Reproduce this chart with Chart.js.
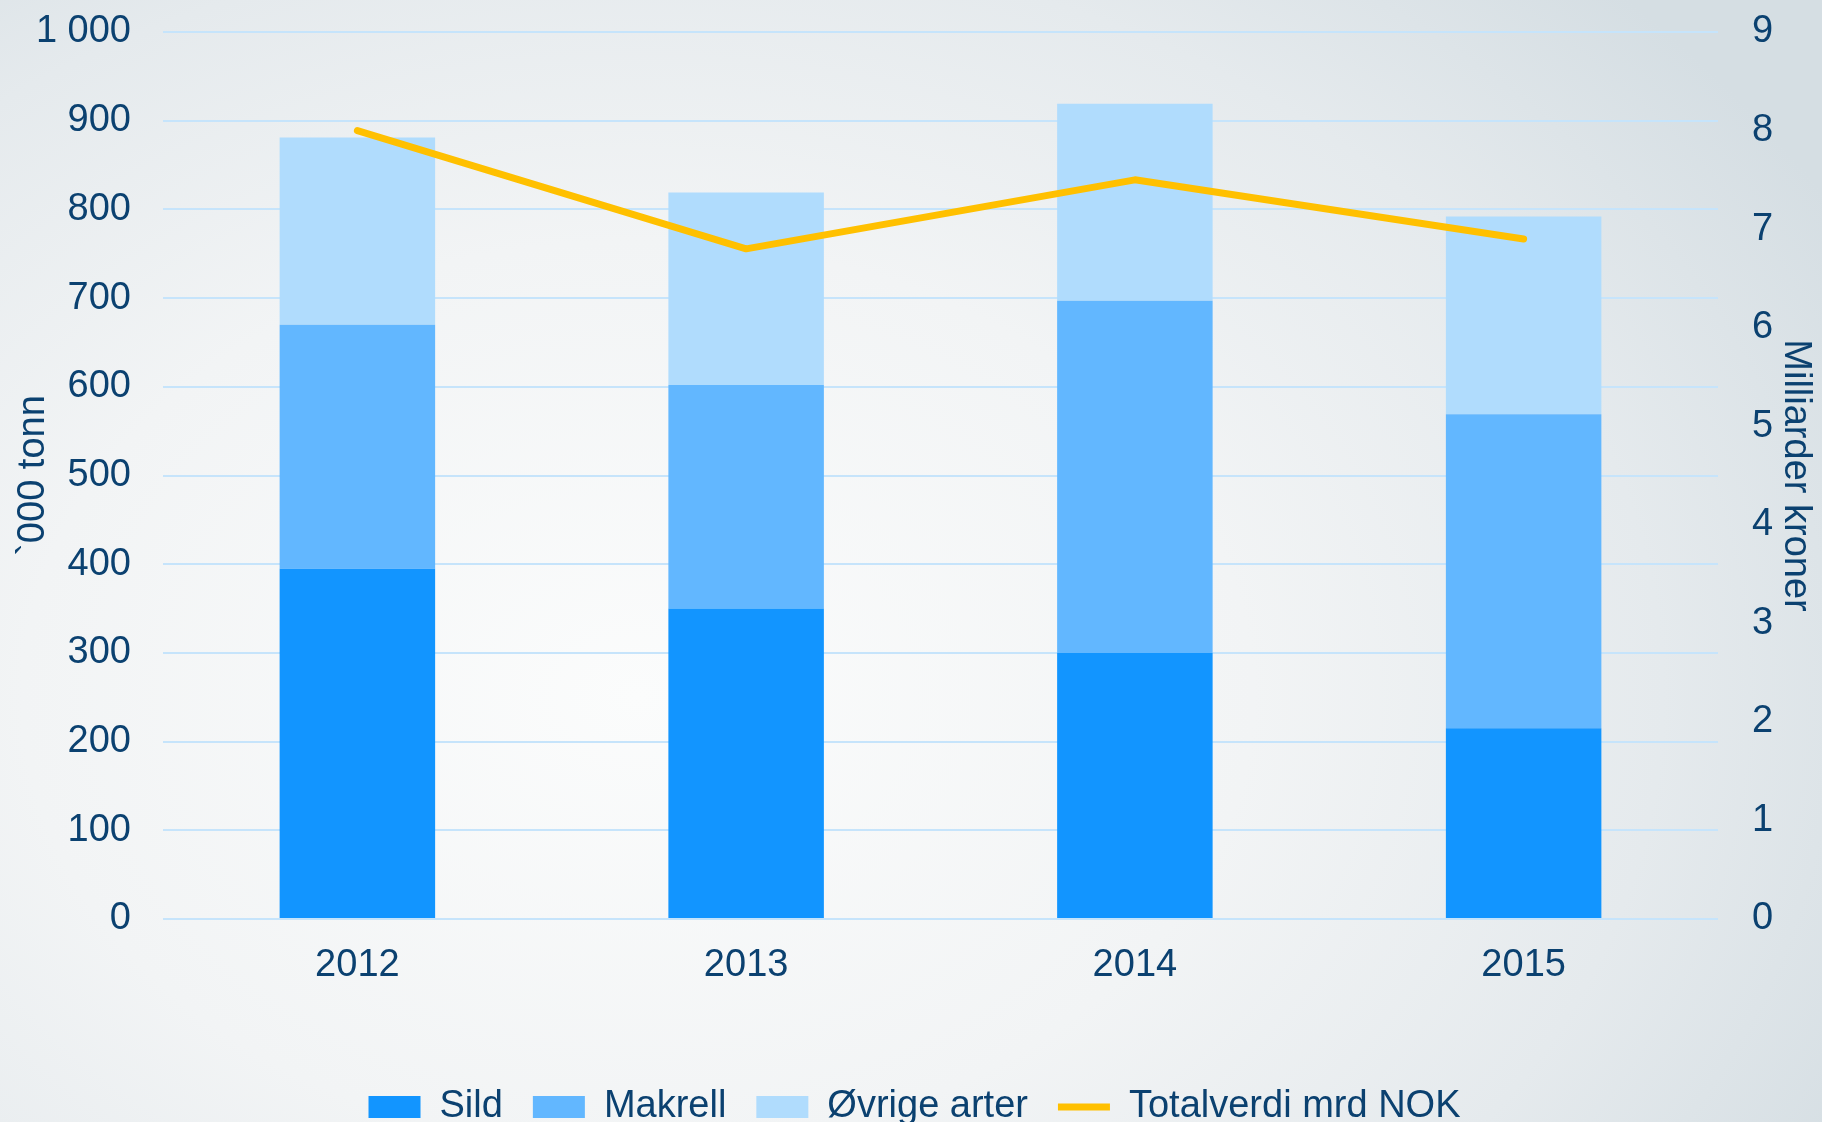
<!DOCTYPE html>
<html>
<head>
<meta charset="utf-8">
<title>Fangst og verdi</title>
<script src="https://cdn.jsdelivr.net/npm/chart.js@4"></script>
<style>
  html, body { margin: 0; padding: 0; overflow: hidden; }
  body {
    width: 1822px; height: 1122px;
    background: radial-gradient(ellipse 75% 90% at 35% 62%, #fbfcfc 0%, #f2f4f5 45%, #e5eaed 75%, #d5dee3 100%);
  }
  #wrap { width: 1822px; height: 1136px; }
</style>
</head>
<body>
<div id="wrap"><canvas id="chart" width="1822" height="1136"></canvas></div>
<script>
// --- Données ---
const years = ['2012', '2013', '2014', '2015'];
const sild = [395, 350, 300, 215];
const makrell = [275, 252, 397, 354];
const ovrige = [211, 217, 222, 223];
const totalverdi = [8.0, 6.8, 7.5, 6.9];

const navy = '#0b4170';
const font = { family: '"Liberation Sans", Arial, sans-serif', size: 38 };

// formats 1000 -> "1 000"
function fmt(v) {
    return String(v).replace(/\B(?=(\d{3})+(?!\d))/g, ' ');
}

new Chart(document.getElementById('chart'), {
    data: {
        labels: years,
        datasets: [
            { type: 'bar', label: 'Sild', data: sild, backgroundColor: '#1295ff', pointStyle: 'rect', order: 1 },
            { type: 'bar', label: 'Makrell', data: makrell, backgroundColor: '#62b7ff', pointStyle: 'rect', order: 1 },
            { type: 'bar', label: 'Øvrige arter', data: ovrige, backgroundColor: '#b0dcfd', pointStyle: 'rect', order: 1 },
            {
                type: 'line', label: 'Totalverdi mrd NOK', data: totalverdi, yAxisID: 'y1',
                borderColor: '#ffc000', backgroundColor: '#ffc000', borderWidth: 7,
                borderCapStyle: 'round', borderJoinStyle: 'round',
                pointRadius: 0, pointStyle: 'line', tension: 0, order: 0
            }
        ]
    },
    options: {
        responsive: false,
        animation: false,
        layout: { padding: { top: 32, right: 4, left: 11, bottom: 0 } },
        datasets: { bar: { categoryPercentage: 1, barPercentage: 0.4 } },
        plugins: {
            tooltip: { enabled: false },
            legend: {
                position: 'bottom',
                labels: {
                    color: navy, font: font,
                    usePointStyle: true, pointStyleWidth: 52, boxHeight: 22,
                    padding: 30,
                    sort: (a, b) => a.datasetIndex - b.datasetIndex
                }
            }
        },
        scales: {
            x: {
                stacked: true,
                grid: { display: false },
                border: { display: false },
                ticks: { color: navy, font: font, padding: 16 },
                afterFit: (scale) => { scale.height = 139; }
            },
            y: {
                stacked: true,
                min: 0, max: 1000,
                // tick marks invisibles : seulement pour l'écart label / grille
                grid: { color: '#c6e4fb', lineWidth: 2, drawTicks: true, tickLength: 32, tickColor: 'transparent' },
                border: { display: false },
                ticks: { stepSize: 100, color: navy, font: font, padding: 0, callback: (v) => fmt(v) },
                title: { display: true, text: '`000 tonn', color: navy, font: font, padding: 0 },
                afterFit: (scale) => { scale.width = 152; }
            },
            y1: {
                position: 'right',
                min: 0, max: 9,
                grid: { drawOnChartArea: false, drawTicks: true, tickLength: 34, tickColor: 'transparent' },
                border: { display: false },
                ticks: { stepSize: 1, color: navy, font: font, padding: 0 },
                title: { display: true, text: 'Milliarder kroner', color: navy, font: font, padding: 0 },
                afterFit: (scale) => { scale.width = 100; }
            }
        }
    }
});
</script>
</body>
</html>
